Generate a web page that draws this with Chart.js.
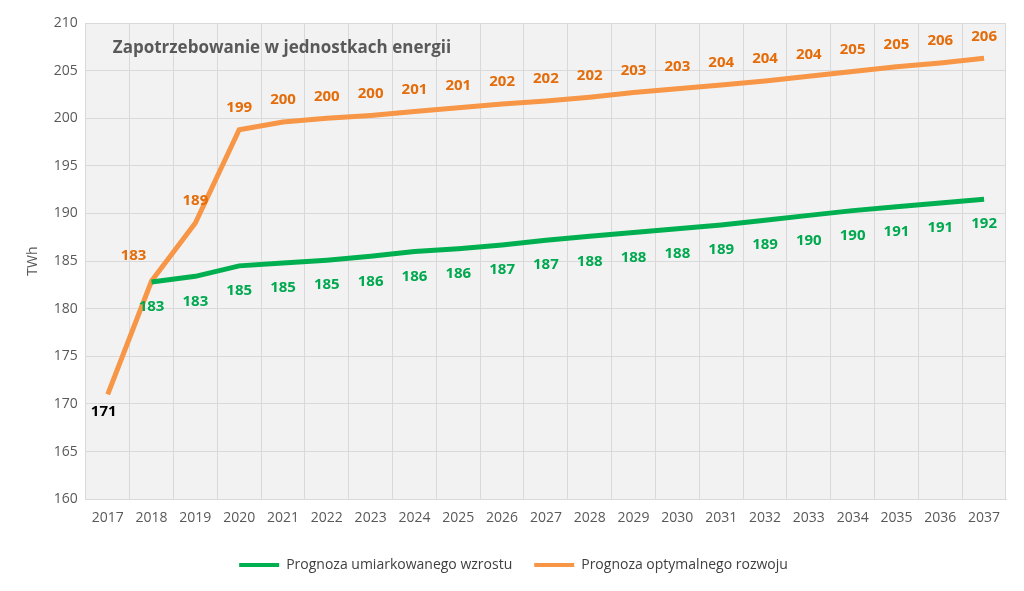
<!DOCTYPE html>
<html>
<head>
<meta charset="utf-8">
<script src="https://cdn.jsdelivr.net/npm/chart.js@4"></script>
<style>
  html, body { margin: 0; padding: 0; background: #fff; }
  #wrap { width: 1024px; height: 591px; }
</style>
</head>
<body>
<div id="wrap"><canvas id="canvas"></canvas></div>
<script>
// Lata
const years = ['2017', '2018', '2019', '2020', '2021', '2022', '2023', '2024', '2025', '2026', '2027',
  '2028', '2029', '2030', '2031', '2032', '2033', '2034', '2035', '2036', '2037'];

// Prognoza umiarkowanego wzrostu (TWh)
const moderate = [null, 182.8, 183.4, 184.5, 184.8, 185.1, 185.5, 186.0, 186.3, 186.7, 187.2,
  187.6, 188.0, 188.4, 188.8, 189.3, 189.8, 190.3, 190.7, 191.1, 191.5];

// Prognoza optymalnego rozwoju (TWh)
const optimal = [171.0, 182.9, 189.0, 198.8, 199.6, 200.0, 200.3, 200.7, 201.1, 201.5, 201.8,
  202.2, 202.7, 203.1, 203.5, 203.9, 204.4, 204.9, 205.4, 205.8, 206.3];

const yTicks = [160, 165, 170, 175, 180, 185, 190, 195, 200, 205, 210];

const fontFamily = '"Open Sans", "Noto Sans", sans-serif';

// tło obszaru wykresu + tytuł w środku
const plotBg = {
  id: 'plotBg',
  beforeDraw(chart) {
    const { ctx, chartArea } = chart;
    ctx.save();
    ctx.fillStyle = '#f2f2f2';
    ctx.fillRect(chartArea.left, chartArea.top, chartArea.right - chartArea.left, chartArea.bottom - chartArea.top);
    ctx.restore();
  },
  afterDraw(chart) {
    const { ctx, chartArea } = chart;
    ctx.save();
    ctx.fillStyle = '#595959';
    ctx.font = 'bold 17px ' + fontFamily;
    ctx.textAlign = 'left';
    ctx.textBaseline = 'middle';
    ctx.fillText('Zapotrzebowanie w jednostkach energii', chartArea.left + 27, chartArea.top + 25);
    ctx.restore();
  }
};

// etykiety wartości
const valueLabels = {
  id: 'valueLabels',
  afterDatasetsDraw(chart) {
    const ctx = chart.ctx;
    ctx.save();
    ctx.font = 'bold 15px ' + fontFamily;
    ctx.textAlign = 'center';
    ctx.textBaseline = 'middle';
    chart.data.datasets.forEach((ds, di) => {
      const meta = chart.getDatasetMeta(di);
      meta.data.forEach((pt, i) => {
        const v = ds.data[i];
        if (v === null) return;
        let dx = 0, dy = di === 0 ? 25 : -22;
        let color = di === 0 ? '#00a84f' : '#e46c0a';
        if (di === 1 && i === 0) { dx = -4; dy = 17; color = '#000'; }
        if (di === 1 && i === 1) { dx = -18; dy = -25; }
        ctx.fillStyle = color;
        ctx.fillText(String(Math.round(v)), pt.x + dx, pt.y + dy);
      });
    });
    ctx.restore();
  }
};

const data = {
  labels: years,
  datasets: [
    {
      label: 'Prognoza umiarkowanego wzrostu',
      data: moderate,
      borderColor: '#00b050',
      backgroundColor: '#00b050',
      borderWidth: 5,
      pointRadius: 0,
      tension: 0,
      spanGaps: false
    },
    {
      label: 'Prognoza optymalnego rozwoju',
      data: optimal,
      borderColor: '#f79646',
      backgroundColor: '#f79646',
      borderWidth: 5,
      pointRadius: 0,
      tension: 0
    }
  ]
};

const config = {
  type: 'line',
  data: data,
  plugins: [plotBg, valueLabels],
  options: {
    responsive: true,
    maintainAspectRatio: false,
    animation: false,
    layout: { padding: { top: 23, right: 18, left: 21, bottom: 9 } },
    scales: {
      x: {
        offset: true,
        grid: { offset: true, color: '#d9d9d9', lineWidth: 1, drawTicks: false },
        border: { color: '#d9d9d9' },
        ticks: { color: '#595959', font: { family: fontFamily, size: 14 }, padding: 10, maxRotation: 0, autoSkip: false }
      },
      y: {
        min: 160,
        max: 210,
        afterBuildTicks(scale) { scale.ticks = yTicks.map(v => ({ value: v })); },
        grid: { color: '#d9d9d9', lineWidth: 1, drawTicks: false },
        border: { color: '#d9d9d9' },
        ticks: { color: '#595959', font: { family: fontFamily, size: 14 }, padding: 8 },
        title: { display: true, text: 'TWh', color: '#595959', font: { family: fontFamily, size: 14 }, padding: { bottom: 4 } }
      }
    },
    plugins: {
      legend: {
        position: 'bottom',
        labels: {
          color: '#404040',
          font: { family: fontFamily, size: 14 },
          boxWidth: 40,
          boxHeight: 4,
          padding: 22,
          generateLabels(chart) {
            return chart.data.datasets.map((ds, i) => ({
              text: ds.label,
              fillStyle: ds.borderColor,
              strokeStyle: ds.borderColor,
              lineWidth: 0,
              fontColor: '#404040',
              hidden: false,
              datasetIndex: i
            }));
          }
        }
      },
      tooltip: { enabled: false }
    }
  }
};

const canvas = document.getElementById('canvas');
const chart = new Chart(canvas, config);
</script>
</body>
</html>
